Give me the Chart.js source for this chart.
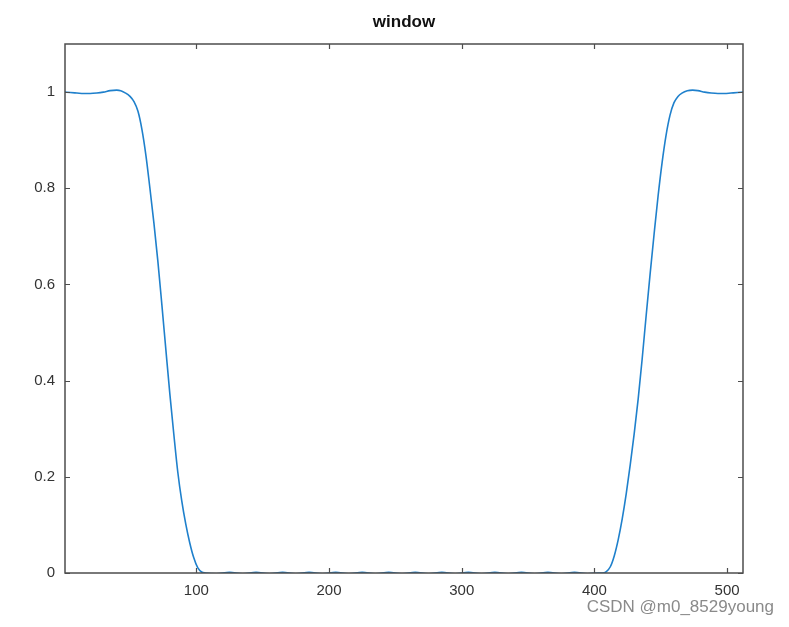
<!DOCTYPE html>
<html>
<head>
<meta charset="utf-8">
<script src="https://cdn.jsdelivr.net/npm/chart.js@4.4.1/dist/chart.umd.min.js"></script>
<style>
  html, body { margin: 0; padding: 0; background: #fff; }
  #wrap { width: 789px; height: 627px; position: relative; }
</style>
</head>
<body>
<div id="wrap"><canvas id="windowChart"></canvas></div>
<script>
// sample positions (x = sample index, y = window value)
const xVals = [1, 5, 10, 15, 20, 25, 30, 35, 40, 43, 46, 50, 53, 56, 59, 62, 65, 68, 71, 74, 77, 80, 83, 86, 89, 92, 95, 98, 101, 104, 107,
    115, 125, 135, 145, 155, 165, 175, 185, 195, 205, 215, 225, 235, 245, 255, 265, 275, 285, 295, 305, 315, 325, 335, 345, 355, 365, 375, 385, 395, 403,
    406, 409, 412, 415, 418, 421, 424, 427, 430, 433, 436, 439, 442, 445, 448, 451, 454, 457, 460, 463, 466, 470, 474, 478, 483, 488, 493, 498, 503, 508, 512];
const yVals = [1.000, 0.999, 0.998, 0.997, 0.997, 0.998, 1.000, 1.003, 1.004, 1.003, 0.999, 0.991, 0.980, 0.960, 0.922, 0.868, 0.800, 0.728, 0.648, 0.558, 0.465, 0.373, 0.289, 0.210, 0.150, 0.102, 0.063, 0.032, 0.011, 0.002, 0.000,
    -0.0015, 0.0015, -0.0015, 0.0015, -0.0015, 0.0015, -0.0015, 0.0015, -0.0015, 0.0015, -0.0015, 0.0015, -0.0015, 0.0015, -0.0015, 0.0015, -0.0015, 0.0015, -0.0015, 0.0015, -0.0015, 0.0015, -0.0015, 0.0015, -0.0015, 0.0015, -0.0015, 0.0015, -0.0015, 0.000,
    0.000, 0.003, 0.013, 0.036, 0.070, 0.113, 0.165, 0.225, 0.290, 0.362, 0.445, 0.535, 0.622, 0.705, 0.784, 0.853, 0.910, 0.952, 0.978, 0.991, 0.998, 1.003, 1.004, 1.003, 1.000, 0.998, 0.997, 0.997, 0.998, 0.999, 1.000];

const xTicks = [100, 200, 300, 400, 500];
const yTicks = [0, 0.2, 0.4, 0.6, 0.8, 1];
const titleText = 'window';

const boxColor = '#4d4d4d';

// frame on all four sides + inward tick marks, like the octave axes box
const boxPlugin = {
    id: 'boxPlugin',
    afterDatasetsDraw(chart) {
        const { ctx, chartArea: a, scales } = chart;
        ctx.save();
        ctx.strokeStyle = boxColor;
        ctx.lineWidth = 1.5;
        ctx.strokeRect(a.left, a.top, a.right - a.left, a.bottom - a.top);
        ctx.lineWidth = 1.2;
        ctx.beginPath();
        xTicks.forEach(v => {
            const px = Math.round(scales.x.getPixelForValue(v)) + 0.5;
            ctx.moveTo(px, a.bottom); ctx.lineTo(px, a.bottom - 5);
            ctx.moveTo(px, a.top); ctx.lineTo(px, a.top + 5);
        });
        yTicks.forEach(v => {
            const py = Math.round(scales.y.getPixelForValue(v)) + 0.5;
            ctx.moveTo(a.left, py); ctx.lineTo(a.left + 5, py);
            ctx.moveTo(a.right, py); ctx.lineTo(a.right - 5, py);
        });
        ctx.stroke();
        ctx.restore();
    },
    afterDraw(chart) {
        const { ctx, chartArea: a } = chart;
        ctx.save();
        // title centred over the plot box
        ctx.font = 'bold 17px "Liberation Sans", Arial, sans-serif';
        ctx.fillStyle = '#111';
        ctx.textAlign = 'center';
        ctx.textBaseline = 'middle';
        ctx.fillText(titleText, (a.left + a.right) / 2, 22);
        // watermark
        ctx.font = '17px "Liberation Sans", Arial, sans-serif';
        ctx.fillStyle = '#8a8a8a';
        ctx.textAlign = 'right';
        ctx.fillText('CSDN @m0_8529young', 774, 607);
        ctx.restore();
    }
};

const ctx = document.getElementById('windowChart').getContext('2d');

new Chart(ctx, {
    type: 'scatter',
    data: {
        datasets: [{
            label: 'window',
            data: xVals.map((x, i) => ({ x: x, y: yVals[i] })),
            showLine: true,
            borderColor: '#1f80cc',
            borderWidth: 1.6,
            pointRadius: 0,
            cubicInterpolationMode: 'monotone',
            fill: false
        }]
    },
    options: {
        responsive: true,
        maintainAspectRatio: false,
        animation: false,
        layout: { padding: { top: 44, right: 46, bottom: 0, left: 0 } },
        scales: {
            x: {
                type: 'linear',
                min: 1,
                max: 512,
                grid: { display: false, drawTicks: false },
                border: { display: false },
                afterBuildTicks: s => { s.ticks = xTicks.map(v => ({ value: v })); },
                afterFit: s => { s.height = 54; },
                ticks: {
                    padding: 9,
                    color: '#333',
                    font: { family: '"Liberation Sans", Arial, sans-serif', size: 15 },
                    maxRotation: 0
                }
            },
            y: {
                min: 0,
                max: 1.1,
                grid: { display: false, drawTicks: false },
                border: { display: false },
                afterBuildTicks: s => { s.ticks = yTicks.map(v => ({ value: v })); },
                afterFit: s => { s.width = 65; },
                ticks: {
                    padding: 10,
                    color: '#333',
                    font: { family: '"Liberation Sans", Arial, sans-serif', size: 15 },
                    callback: v => String(+v.toFixed(1))
                }
            }
        },
        plugins: {
            legend: { display: false },
            tooltip: { enabled: false },
            title: { display: false }
        }
    },
    plugins: [boxPlugin]
});
</script>
</body>
</html>
